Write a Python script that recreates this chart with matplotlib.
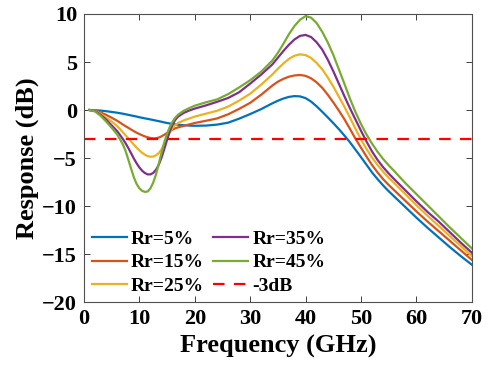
import matplotlib
matplotlib.use("Agg")
import matplotlib.pyplot as plt

freq = [1, 2, 3, 4, 5, 6,
        7, 7.5, 8, 8.5, 9, 9.5, 10, 10.5, 11, 11.5, 12, 12.5, 13, 13.5, 14,
        14.5, 15, 15.5, 16, 16.5, 17,
        18, 19, 20, 22, 24, 26, 28, 30, 32,
        34, 35, 36, 37, 38, 39, 40, 41, 42, 43, 44, 45, 46, 47, 48, 49, 50,
        51, 52, 53, 54, 55, 56,
        58, 60, 62, 64, 66, 68, 70]

rr5 = [0.0, -0.02, -0.06, -0.12, -0.2, -0.28,
       -0.38, -0.44, -0.5, -0.56, -0.62, -0.68, -0.75, -0.81, -0.87, -0.92, -0.98,
       -1.04, -1.1, -1.16, -1.22, -1.29, -1.35, -1.4, -1.45, -1.49, -1.53,
       -1.58, -1.62, -1.64, -1.62, -1.52, -1.32, -0.9, -0.42, 0.1,
       0.7, 0.97, 1.2, 1.37, 1.45, 1.42, 1.24, 0.88, 0.38, -0.18, -0.76, -1.36,
       -1.98, -2.65, -3.35, -4.12, -4.9, -5.7, -6.5, -7.2, -7.85, -8.45, -9.0,
       -10.1, -11.2, -12.25, -13.25, -14.25, -15.2, -16.1]
rr15 = [0.0, -0.05, -0.25, -0.5, -0.8, -1.12,
        -1.5, -1.68, -1.85, -2.03, -2.2, -2.36, -2.5, -2.63, -2.75, -2.84, -2.91,
        -2.95, -2.94, -2.87, -2.74, -2.57, -2.38, -2.2, -2.04, -1.9, -1.8,
        -1.65, -1.5, -1.35, -1.12, -0.88, -0.45, 0.12, 0.75, 1.6,
        2.55, 2.95, 3.25, 3.47, 3.6, 3.65, 3.56, 3.3, 2.88, 2.32, 1.6, 0.8,
        -0.05, -0.95, -1.95, -2.98, -3.92, -4.85, -5.73, -6.5, -7.2, -7.8, -8.35,
        -9.45, -10.55, -11.6, -12.6, -13.6, -14.6, -15.6]
rr25 = [0.0, -0.07, -0.4, -0.8, -1.2, -1.67,
        -2.3, -2.62, -2.95, -3.28, -3.6, -3.92, -4.2, -4.45, -4.65, -4.8, -4.86,
        -4.84, -4.72, -4.48, -4.1, -3.55, -2.9, -2.3, -1.85, -1.55, -1.35,
        -1.08, -0.88, -0.68, -0.38, -0.08, 0.35, 0.98, 1.7, 2.65,
        3.7, 4.3, 4.85, 5.33, 5.65, 5.8, 5.72, 5.42, 4.9, 4.25, 3.4, 2.45,
        1.4, 0.35, -0.78, -1.95, -3.05, -4.05, -4.95, -5.72, -6.42, -7.05, -7.6,
        -8.75, -9.9, -11.0, -12.05, -13.1, -14.15, -15.2]
rr35 = [0.0, -0.1, -0.5, -1.0, -1.6, -2.2,
        -3.0, -3.45, -3.95, -4.5, -5.05, -5.55, -5.98, -6.32, -6.56, -6.7, -6.7,
        -6.55, -6.22, -5.7, -4.95, -4.05, -3.1, -2.2, -1.5, -1.0, -0.68,
        -0.3, -0.05, 0.15, 0.48, 0.85, 1.25, 1.85, 2.75, 3.7,
        4.75, 5.45, 6.15, 6.8, 7.35, 7.72, 7.82, 7.6, 7.05, 6.3, 5.25, 4.05,
        2.75, 1.45, 0.2, -0.98, -2.15, -3.28, -4.32, -5.2, -5.95, -6.6, -7.2,
        -8.35, -9.5, -10.6, -11.6, -12.7, -13.8, -14.85]
rr45 = [0.0, -0.15, -0.6, -1.2, -1.85, -2.55,
        -3.55, -4.25, -5.15, -6.1, -7.0, -7.7, -8.15, -8.42, -8.52, -8.48, -8.15,
        -7.55, -6.7, -5.6, -4.45, -3.35, -2.45, -1.75, -1.2, -0.78, -0.48,
        -0.08, 0.2, 0.45, 0.8, 1.1, 1.65, 2.35, 3.1, 4.0,
        5.15, 5.95, 6.9, 7.9, 8.75, 9.4, 9.78, 9.62, 9.05, 8.15, 7.05, 5.75,
        4.25, 2.75, 1.2, -0.2, -1.45, -2.55, -3.5, -4.35, -5.1, -5.75, -6.35,
        -7.6, -8.75, -9.9, -11.05, -12.2, -13.3, -14.4]

labels = ["Rr=5%", "Rr=15%", "Rr=25%", "Rr=35%", "Rr=45%"]
colors = ["#0072BD", "#D95319", "#EDB120", "#7E2F8E", "#77AC30"]
threshold = -3
threshold_label = "-3dB"
xlim = (0, 70)
ylim = (-20, 10)

plt.rcParams['font.family'] = ['Liberation Serif', 'DejaVu Serif']
plt.rcParams['font.weight'] = 'bold'

fig = plt.figure(figsize=(4.94, 3.68), dpi=100)
ax = fig.add_axes([0.170, 0.179, 0.785, 0.783])

for ys, lab, c in zip([rr5, rr15, rr25, rr35, rr45], labels, colors):
    ax.plot(freq, ys, color=c, lw=1.6, label=lab, solid_joinstyle='round')
ax.plot(xlim, [threshold, threshold], color="#FF0000", lw=1.6,
        dashes=(5.2, 4.2), label=threshold_label)

ax.set_xlim(*xlim)
ax.set_ylim(*ylim)
ax.set_xticks(range(0, 71, 10))
ax.set_yticks(range(-20, 11, 5))
ax.tick_params(direction='in', top=True, right=True, length=4, width=0.7,
               color='#404040', labelsize=16, pad=5)
for lbl in ax.get_xticklabels() + ax.get_yticklabels():
    lbl.set_fontweight('bold')
for s in ax.spines.values():
    s.set_color('#505050')
    s.set_linewidth(0.8)

ax.set_xlabel("Frequency (GHz)", fontsize=19, fontweight='bold', labelpad=4)
ax.set_ylabel("Response (dB)", fontsize=19, fontweight='bold', labelpad=2)

ax.legend(ncol=2, loc='lower left', bbox_to_anchor=(0.02, 0.025), frameon=False,
          prop={'size': 14, 'weight': 'bold'}, handlelength=1.8,
          handletextpad=0.2, columnspacing=0.5, labelspacing=0.3,
          borderpad=0, borderaxespad=0)

fig.savefig("out.png", dpi=100)
